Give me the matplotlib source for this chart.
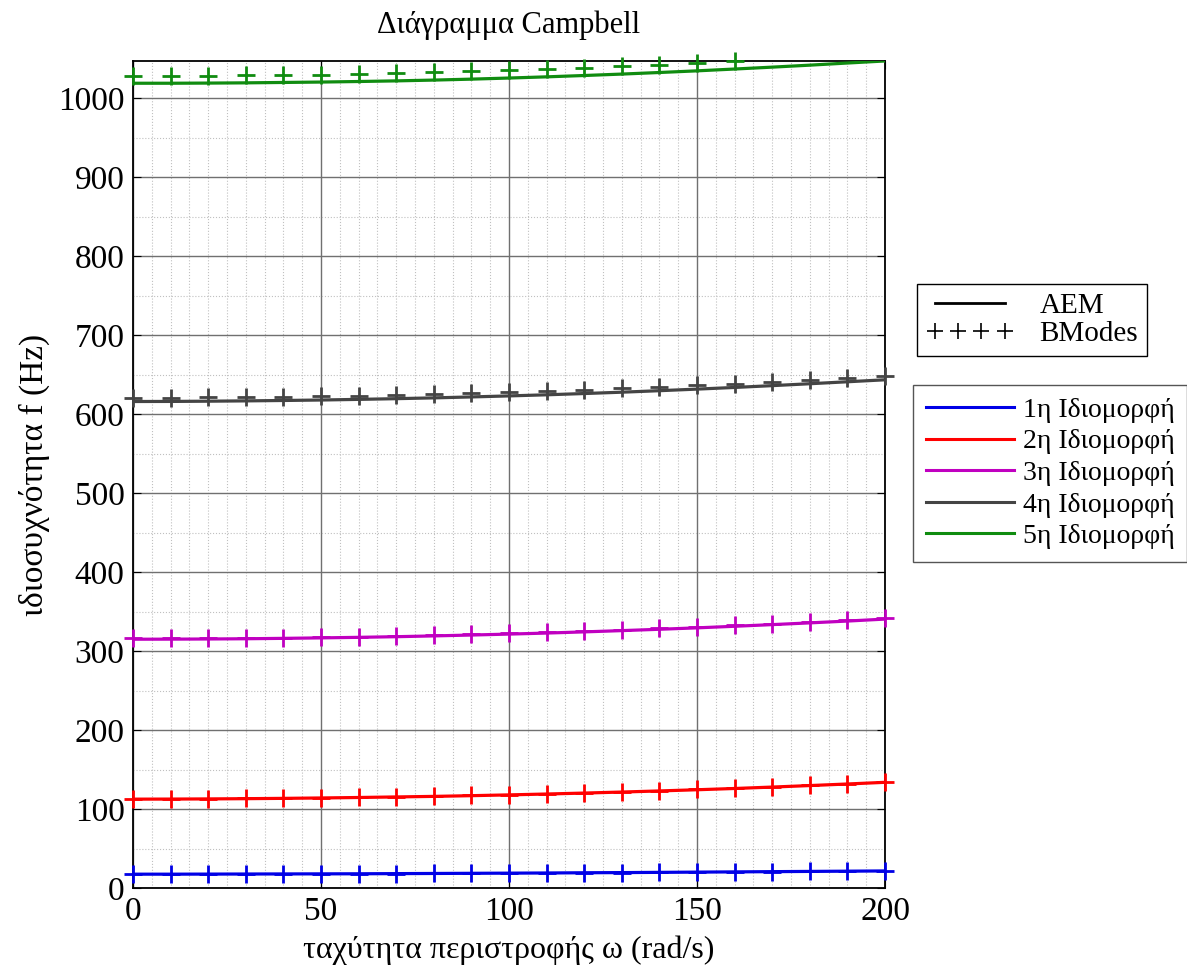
import numpy as np
import matplotlib
matplotlib.use("Agg")
import matplotlib.pyplot as plt
from matplotlib.lines import Line2D
from matplotlib.ticker import MultipleLocator

plt.rcParams['font.family'] = ['Liberation Serif', 'DejaVu Serif']

# rotational speed (rad/s)
omega = [0, 10, 20, 30, 40, 50, 60, 70, 80, 90, 100,
         110, 120, 130, 140, 150, 160, 170, 180, 190, 200]

# AEM results (lines)
aem_1 = [17.5, 17.5, 17.6, 17.7, 17.8, 17.9, 18.0, 18.2, 18.4, 18.6, 18.8,
         19.0, 19.3, 19.5, 19.8, 20.1, 20.4, 20.7, 21.0, 21.3, 21.6]
aem_2 = [112.5, 112.6, 112.8, 113.1, 113.5, 114.0, 114.6, 115.3, 116.0, 116.9, 117.9,
         119.0, 120.2, 121.5, 122.9, 124.4, 126.0, 127.8, 129.7, 131.7, 133.8]
aem_3 = [315.0, 315.1, 315.3, 315.6, 316.1, 316.7, 317.4, 318.2, 319.2, 320.3, 321.5,
         322.8, 324.3, 325.9, 327.6, 329.4, 331.4, 333.5, 335.7, 338.0, 340.5]
aem_4 = [616.0, 616.1, 616.4, 616.8, 617.3, 617.9, 618.7, 619.6, 620.6, 621.8, 623.1,
         624.5, 626.1, 627.8, 629.7, 631.7, 633.8, 636.1, 638.5, 641.0, 643.5]
aem_5 = [1019.0, 1019.0, 1019.2, 1019.5, 1020.0, 1020.5, 1021.2, 1022.0, 1023.0, 1024.2, 1025.6,
         1027.1, 1028.8, 1030.6, 1032.6, 1034.7, 1037.0, 1039.4, 1041.9, 1044.6, 1047.2]

# BModes results (markers)
bm_1 = [17.6, 17.6, 17.7, 17.8, 17.9, 18.0, 18.1, 18.3, 18.5, 18.7, 18.9,
        19.1, 19.4, 19.6, 19.9, 20.2, 20.5, 20.8, 21.1, 21.4, 21.7]
bm_2 = [112.8, 112.9, 113.1, 113.4, 113.8, 114.3, 114.9, 115.6, 116.4, 117.3, 118.3,
        119.4, 120.6, 121.9, 123.3, 124.8, 126.4, 128.2, 130.1, 132.1, 134.3]
bm_3 = [316.0, 316.1, 316.3, 316.6, 317.1, 317.7, 318.4, 319.2, 320.2, 321.3, 322.5,
        323.8, 325.3, 326.9, 328.6, 330.4, 332.4, 334.5, 336.7, 339.0, 341.6]
bm_4 = [621.0, 621.0, 621.3, 621.7, 622.2, 622.8, 623.5, 624.4, 625.4, 626.5, 627.8,
        629.2, 630.8, 632.5, 634.3, 636.3, 638.4, 640.7, 643.1, 645.6, 648.5]
omega_bm5 = [0, 10, 20, 30, 40, 50, 60, 70, 80, 90, 100, 110, 120, 130, 140, 150, 160]
bm_5 = [1028.5, 1028.5, 1028.7, 1029.0, 1029.5, 1030.0, 1030.8, 1031.7, 1032.8, 1034.0,
        1035.4, 1037.0, 1038.7, 1040.6, 1042.7, 1045.0, 1047.4]

mode_labels = ['1η Ιδιομορφή', '2η Ιδιομορφή', '3η Ιδιομορφή', '4η Ιδιομορφή', '5η Ιδιομορφή']
colors = ['#0000e6', '#ff0000', '#c000c0', '#444444', '#108c10']

fig = plt.figure(figsize=(11.87, 9.74), dpi=100)
ax = fig.add_axes([0.1120, 0.0883, 0.6336, 0.8491])

aem = [aem_1, aem_2, aem_3, aem_4, aem_5]
bm = [bm_1, bm_2, bm_3, bm_4, bm_5]
bm_x = [omega, omega, omega, omega, omega_bm5]

for i in range(5):
    ax.plot(omega, aem[i], color=colors[i], lw=2.3, zorder=3)
    ax.plot(bm_x[i], bm[i], ls='none', marker='+', ms=13, mew=2,
            color=colors[i], zorder=4, clip_on=False)

ax.set_xlim(0, 200)
ax.set_ylim(0, 1047.2)
ax.xaxis.set_major_locator(MultipleLocator(50))
ax.xaxis.set_minor_locator(MultipleLocator(5))
ax.yaxis.set_major_locator(MultipleLocator(100))
ax.yaxis.set_minor_locator(MultipleLocator(50))
ax.grid(which='major', color='#707070', lw=1.0, ls='-')
ax.grid(which='minor', color='#c0c0c0', lw=0.8, ls=':')
ax.set_axisbelow(True)
ax.tick_params(which='both', direction='in', top=True, right=True, labelsize=24)
ax.tick_params(which='major', length=6, pad=6)
ax.tick_params(which='minor', length=0)
for s in ax.spines.values():
    s.set_linewidth(1.3)

ax.set_title('Διάγραμμα Campbell', fontsize=22, pad=20)
ax.set_xlabel('ταχύτητα περιστροφής ω (rad/s)', fontsize=23, labelpad=6)
ax.set_ylabel('ιδιοσυχνότητα f (Hz)', fontsize=24, labelpad=6)

# legend for the two methods
h1 = [Line2D([], [], color='black', lw=2),
      Line2D([], [], color='black', ls='none', marker='+', ms=11, mew=1.2)]
leg1 = fig.legend(h1, ['AEM', 'BModes'], loc='upper left',
                  bbox_to_anchor=(917 / 1187, 1 - 284 / 974), borderaxespad=0,
                  fontsize=21, fancybox=False, edgecolor='black', framealpha=1,
                  numpoints=4, handlelength=3.0, borderpad=0.3, labelspacing=0.05,
                  handletextpad=0.9)
leg1.get_frame().set_linewidth(1.0)

# legend for the modes
h2 = [Line2D([], [], color=c, lw=2.2) for c in colors]
leg2 = fig.legend(h2, mode_labels, loc='upper left',
                  bbox_to_anchor=(913 / 1187, 1 - 385 / 974), borderaxespad=0,
                  fontsize=20, fancybox=False, edgecolor='#555555', framealpha=1,
                  handlelength=3.2, borderpad=0.45, labelspacing=0.22, handletextpad=0.3)
leg2.get_frame().set_linewidth(1.0)

fig.savefig('out.png', dpi=100)
